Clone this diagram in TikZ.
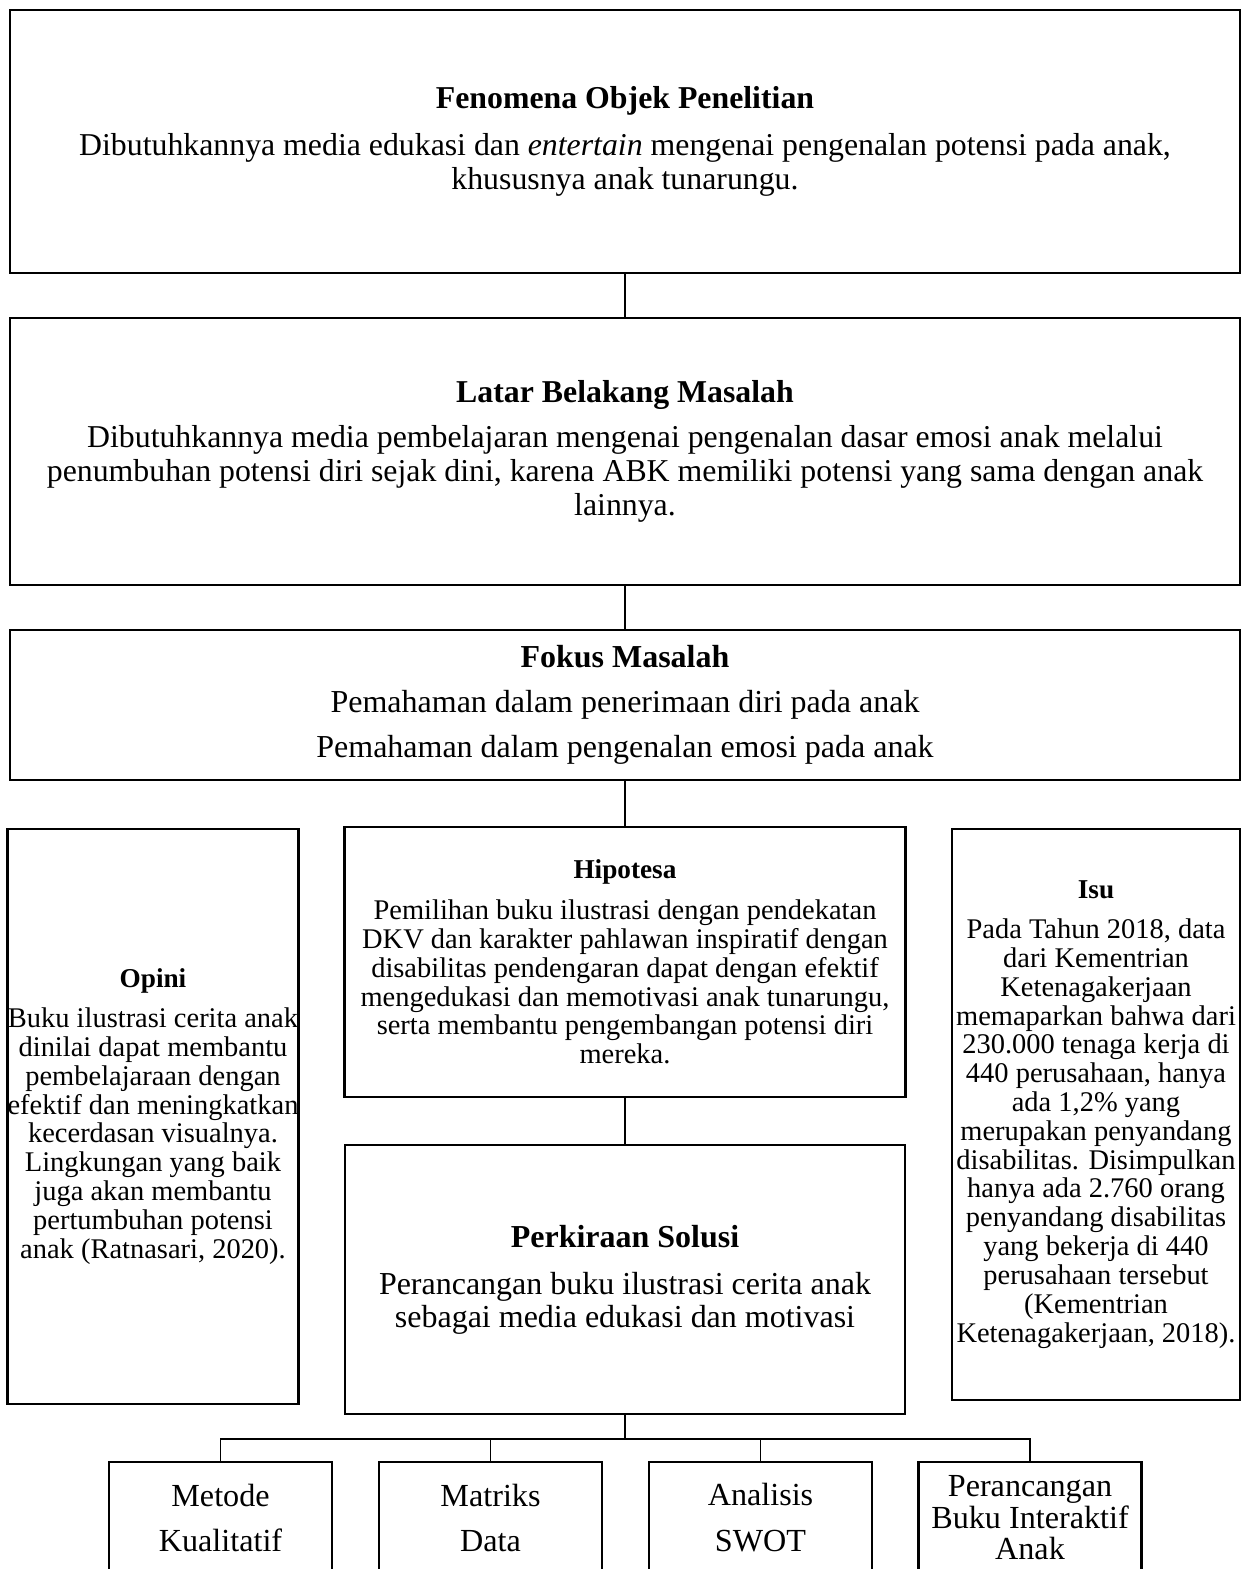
\documentclass[tikz,border=0pt]{standalone}
\usepackage{fontspec}
\setmainfont{Liberation Serif}
\usetikzlibrary{positioning}

\tikzset{
  kotak/.style={draw, line width=1.4pt, align=center, inner sep=0pt},
  garis/.style={line width=1pt},
  besar/.style={font=\fontsize{18.1}{19.3}\selectfont},
  kecil/.style={font=\fontsize{16.2}{16.4}\selectfont},
}
\newcommand{\judulkecil}[1]{{\fontsize{15.5}{16.4}\selectfont\textbf{#1}}}

\begin{document}
\begin{tikzpicture}

\useasboundingbox (0,0) rectangle (24.92,-31.38);
\clip (0,0) rectangle (24.92,-31.38);

% tiga kotak lebar
\node[kotak, besar, minimum width=24.6cm, minimum height=5.26cm] (fenomena) at (12.5,-2.83)
  {\textbf{Fenomena Objek Penelitian}\\[7.4pt]
   Dibutuhkannya media edukasi dan \textit{entertain} mengenai pengenalan potensi pada anak,\\
   khususnya anak tunarungu.};
\node[kotak, besar, minimum width=24.6cm, minimum height=5.34cm] (latar) at (12.5,-9.03)
  {\textbf{Latar Belakang Masalah}\\[6.2pt]
   Dibutuhkannya media pembelajaran mengenai pengenalan dasar emosi anak melalui\\
   penumbuhan potensi diri sejak dini, karena ABK memiliki potensi yang sama dengan anak\\
   lainnya.};
\node[kotak, font=\fontsize{18.2}{25.5}\selectfont, minimum width=24.6cm, minimum height=3cm] (fokus) at (12.5,-14.1)
  {\textbf{Fokus Masalah}\\
   Pemahaman dalam penerimaan diri pada anak\\
   Pemahaman dalam pengenalan emosi pada anak};

% kotak tengah
\node[kotak, kecil, minimum width=5.76cm, minimum height=11.5cm] (opini) at (3.06,-22.33)
  {\judulkecil{Opini}\\[6.3pt]
   Buku ilustrasi cerita anak\\
   dinilai dapat membantu\\
   pembelajaraan dengan\\
   efektif dan meningkatkan\\
   kecerdasan visualnya.\\
   Lingkungan yang baik\\
   juga akan membantu\\
   pertumbuhan potensi\\
   anak (Ratnasari, 2020).};
\node[kotak, kecil, minimum width=11.22cm, minimum height=5.4cm] (hipotesa) at (12.5,-19.24)
  {\judulkecil{Hipotesa}\\[6.8pt]
   Pemilihan buku ilustrasi dengan pendekatan\\
   DKV dan karakter pahlawan inspiratif dengan\\
   disabilitas pendengaran dapat dengan efektif\\
   mengedukasi dan memotivasi anak tunarungu,\\
   serta membantu pengembangan potensi diri\\
   mereka.};
\node[kotak, font=\fontsize{18.2}{18.7}\selectfont, minimum width=11.2cm, minimum height=5.38cm] (solusi) at (12.5,-25.59)
  {\textbf{Perkiraan Solusi}\\[8pt]
   Perancangan buku ilustrasi cerita anak\\
   sebagai media edukasi dan motivasi};
\node[kotak, kecil, minimum width=5.76cm, minimum height=11.42cm] (isu) at (21.92,-22.29)
  {\judulkecil{Isu}\\[6.3pt]
   Pada Tahun 2018, data\\
   dari Kementrian\\
   Ketenagakerjaan\\
   memaparkan bahwa dari\\
   230.000 tenaga kerja di\\
   440 perusahaan, hanya\\
   ada 1,2\% yang\\
   merupakan penyandang\\
   disabilitas. Disimpulkan\\
   hanya ada 2.760 orang\\
   penyandang disabilitas\\
   yang bekerja di 440\\
   perusahaan tersebut\\
   (Kementrian\\
   Ketenagakerjaan, 2018).};

% kotak bawah
\node[kotak, font=\fontsize{18.3}{26.1}\selectfont, minimum width=4.46cm, minimum height=2.24cm] (metode) at (4.41,-30.36)
  {Metode\\ Kualitatif};
\node[kotak, font=\fontsize{18.3}{26.1}\selectfont, minimum width=4.46cm, minimum height=2.24cm] (matriks) at (9.81,-30.36)
  {Matriks\\ Data};
\node[kotak, font=\fontsize{18.3}{26.1}\selectfont, minimum width=4.46cm, minimum height=2.24cm] (swot) at (15.21,-30.36)
  {Analisis\\ SWOT};
\node[kotak, font=\fontsize{18.3}{17.9}\selectfont, minimum width=4.46cm, minimum height=2.24cm] (rancang) at (20.6,-30.36)
  {Perancangan\\ Buku Interaktif\\ Anak};

% garis penghubung
\draw[garis] (fenomena.south) -- (latar.north);
\draw[garis] (latar.south) -- (fokus.north);
\draw[garis] (fokus.south) -- (hipotesa.north);
\draw[garis] (hipotesa.south) -- (solusi.north);
\coordinate (cabang) at (12.5,-28.78);
\draw[garis] (solusi.south) -- (cabang);
\foreach \n in {metode,matriks,swot,rancang}
  \draw[garis] (cabang) -| (\n.north);

\end{tikzpicture}
\end{document}
